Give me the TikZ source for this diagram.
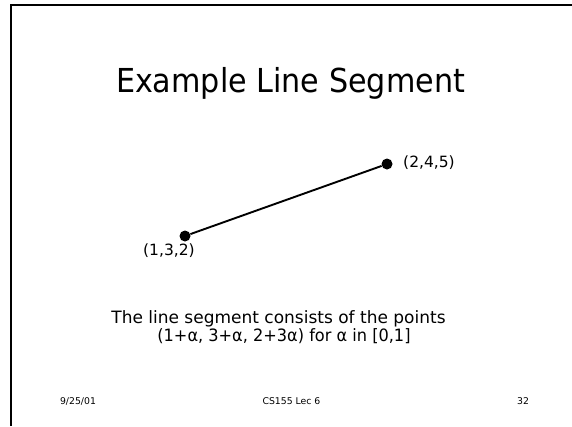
\documentclass[tikz,border=0pt]{standalone}
\usepackage{fontspec}
\setmainfont{DejaVu Sans}
\newfontfamily\titlefont[FakeStretch=0.915]{DejaVu Sans}
\newfontfamily\narrowfont[FakeStretch=0.95]{DejaVu Sans}
\begin{document}
\begin{tikzpicture}[x=1pt,y=-1pt,
  dotst/.style={circle,fill=black,inner sep=0pt,minimum size=11pt},
  lbl/.style={inner sep=0pt,anchor=base west,font=\fontsize{15.5}{18}\selectfont},
  bodyst/.style={inner sep=0pt,anchor=base,font=\fontsize{17}{20}\selectfont},
  foot/.style={inner sep=0pt,anchor=base,font=\fontsize{9.3}{11}\selectfont}]
\useasboundingbox (0,0) rectangle (572,426);
\draw[line width=2pt] (11,426) -- (11,5) -- (572,5);
\node[inner sep=0pt,anchor=base,font=\titlefont\fontsize{33}{38}\selectfont] (title) at (290.5,92) {Example Line Segment};
\node[dotst] (a) at (185,236) {};
\node[dotst] (b) at (387,164) {};
\draw[line width=1.9pt] (a) -- (b);
\node[lbl] (lb) at (403,167) {(2,4,5)};
\node[lbl] (la) at (143,255) {(1,3,2)};
\node[bodyst] (body1) at (278.5,323) {The line segment consists of the points};
\node[bodyst,font=\narrowfont\fontsize{17}{20}\selectfont] (body2) at (284,341)
  {(1+α, 3+α, 2+3α) for α in [0,1]};
\node[foot] (d) at (78,404) {9/25/01};
\node[foot] (c) at (291.5,404) {CS155 Lec 6};
\node[foot] (p) at (523,404) {32};
\end{tikzpicture}
\end{document}
